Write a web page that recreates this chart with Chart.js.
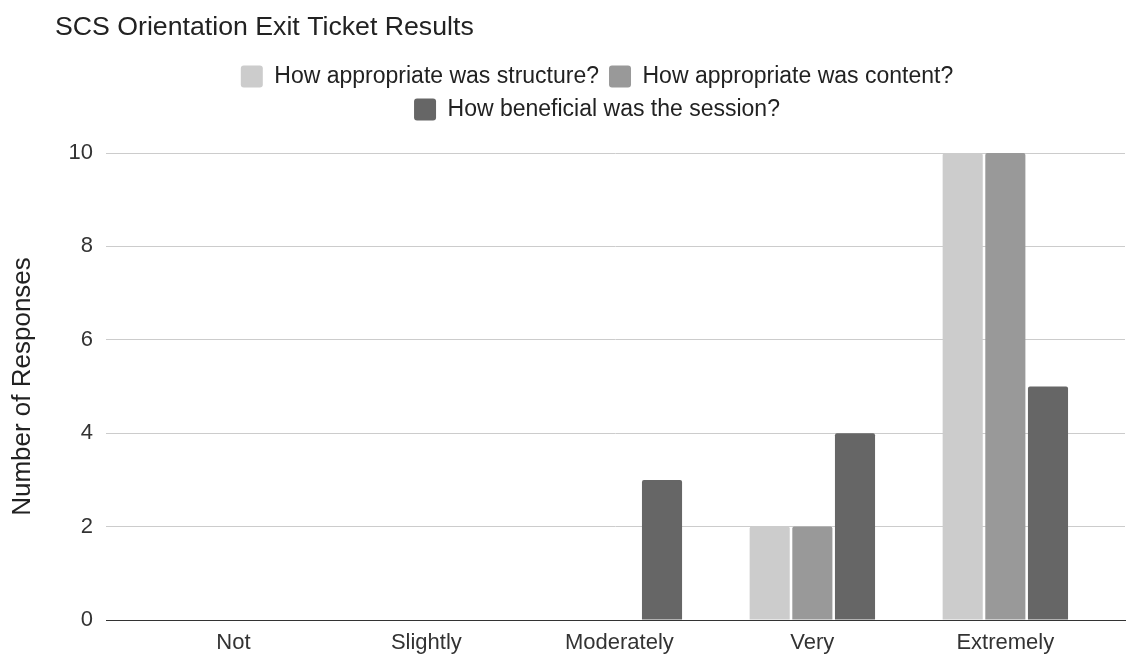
<!DOCTYPE html>
<html>
<head>
<meta charset="utf-8">
<script src="https://cdn.jsdelivr.net/npm/chart.js@4.4.1/dist/chart.umd.min.js"></script>
<style>
  body { margin: 0; background: #fff; }
  #wrap { position: relative; width: 1127px; height: 656px; }
</style>
</head>
<body>
<div id="wrap"><canvas id="myBarChart"></canvas></div>
<script>
// data
var categories = ['Not', 'Slightly', 'Moderately', 'Very', 'Extremely'];
var structureVals = [0, 0, 0, 2, 10];
var contentVals = [0, 0, 0, 2, 10];
var beneficialVals = [0, 0, 3, 4, 5];
var yTicks = [0, 2, 4, 6, 8, 10];

var FONT = "'Liberation Sans', Arial, sans-serif";

function points(vals) {
  return vals.map(function (v, i) { return { x: i, y: v }; });
}

// keeps the legend on two rows and moves title/legend like the sheet export
var layoutTweaks = {
  id: 'layoutTweaks',
  beforeInit: function (chart) {
    var lg = chart.legend;
    var fit = lg.fit;
    lg.fit = function () {
      this.maxWidth = Math.min(this.maxWidth, 760);
      fit.call(this);
      this.height = 98;
    };
  },
  afterLayout: function (chart) {
    chart.titleBlock.left = 55;
    var lg = chart.legend;
    lg.left = 597 - 380;
    lg.right = 597 + 380;
    lg.width = 760;
  }
};

var ctx = document.getElementById('myBarChart').getContext('2d');

var myBarChart = new Chart(ctx, {
  type: 'bar',
  data: {
    datasets: [{
      label: 'How appropriate was structure?',
      data: points(structureVals),
      backgroundColor: '#cccccc'
    }, {
      label: 'How appropriate was content?',
      data: points(contentVals),
      backgroundColor: '#999999'
    }, {
      label: 'How beneficial was the session?',
      data: points(beneficialVals),
      backgroundColor: '#666666'
    }]
  },
  options: {
    responsive: true,
    maintainAspectRatio: false,
    animation: false,
    layout: { padding: { left: 0, right: 2, top: 0, bottom: 0 } },
    datasets: {
      bar: {
        categoryPercentage: 0.663,
        barPercentage: 0.94,
        borderRadius: 2,
        borderWidth: 0
      }
    },
    plugins: {
      title: {
        display: true,
        text: 'SCS Orientation Exit Ticket Results',
        align: 'start',
        color: '#222',
        font: { family: FONT, size: 26.7, weight: 'normal' },
        padding: { top: 12, bottom: 11 }
      },
      legend: {
        position: 'top',
        labels: {
          color: '#222',
          font: { family: FONT, size: 23 },
          boxWidth: 22,
          boxHeight: 22,
          useBorderRadius: true,
          borderRadius: 3,
          padding: 10
        }
      },
      tooltip: { enabled: false }
    },
    scales: {
      x: {
        type: 'linear',
        offset: false,
        min: -0.66,
        max: 4.62,
        afterFit: function (scale) { scale.height = 36; },
        grid: { display: false, drawTicks: false },
        border: { display: true, color: '#333', width: 1 },
        ticks: {
          stepSize: 1,
          includeBounds: false,
          padding: 10,
          color: '#333',
          font: { family: FONT, size: 22 },
          callback: function (v) {
            return categories[v] !== undefined ? categories[v] : '';
          }
        }
      },
      y: {
        min: yTicks[0],
        max: yTicks[yTicks.length - 1],
        afterFit: function (scale) { scale.width = 106; },
        grid: {
          drawTicks: false,
          color: function (c) { return c.tick && c.tick.value === 0 ? '#333' : '#cccccc'; }
        },
        border: { display: false },
        ticks: {
          stepSize: 2,
          padding: 13,
          color: '#333',
          font: { family: FONT, size: 22 }
        },
        title: {
          display: true,
          text: 'Number of Responses',
          color: '#222',
          font: { family: FONT, size: 26 },
          padding: { top: 7, bottom: 0 }
        }
      }
    }
  },
  plugins: [layoutTweaks]
});
</script>
</body>
</html>
